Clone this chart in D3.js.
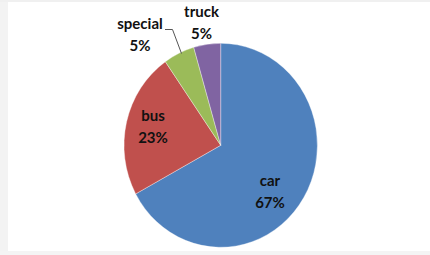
<!DOCTYPE html>
<html><head><meta charset="utf-8">
<script src="https://cdn.jsdelivr.net/npm/d3@7"></script>
<style>html,body{margin:0;padding:0;background:#fff;overflow:hidden}</style>
</head><body><svg id="c" width="430" height="255"></svg>
<script>
const categories = ["car", "bus", "special", "truck"];
const values = [67.1, 23.2, 5.2, 4.5];
const colors = ["#4F81BD", "#C0504D", "#9BBB59", "#8064A2"];

// label layout (centre x, first baseline y) per category
const labelPos = {car: [270, 185.5], bus: [153, 120.5], special: [140, 29], truck: [201.5, 16.5]};

const svg = d3.select("#c");
svg.append("rect").attr("width", 430).attr("height", 255).attr("fill", "#fff");
svg.append("rect").attr("x", 0).attr("y", 0).attr("width", 8).attr("height", 255).attr("fill", "#f3f3f3");
svg.append("rect").attr("x", 0).attr("y", 0).attr("width", 430).attr("height", 2).attr("fill", "#f0f0f0");
svg.append("rect").attr("x", 0).attr("y", 251).attr("width", 430).attr("height", 4).attr("fill", "#f4f4f4");

const cx = 220.7, cy = 145.3, R = 102, sx = 0.948;
const total = d3.sum(values);
const data = categories.map((c, i) => ({cat: c, value: values[i], color: colors[i]}));
const pie = d3.pie().sort(null).value(d => d.value);
const arc = d3.arc().innerRadius(0).outerRadius(R);

const g = svg.append("g").attr("transform", `translate(${cx},${cy}) scale(${sx},1)`);
g.selectAll("path").data(pie(data)).join("path")
  .attr("d", arc)
  .attr("fill", d => d.data.color)
  .attr("stroke", "#ffffff")
  .attr("stroke-width", 0.6)
  .attr("stroke-opacity", 0.6);

// leader line for "special"
svg.append("polyline")
  .attr("points", "165,29.5 172.5,29.5 181.5,53.5")
  .attr("fill", "none").attr("stroke", "#555").attr("stroke-width", 1);

const lab = svg.append("g")
  .attr("font-family", "Lato, 'Open Sans', sans-serif")
  .attr("font-weight", "bold").attr("font-size", 15).attr("fill", "#111")
  .attr("text-anchor", "middle");
data.forEach(d => {
  const [x, y] = labelPos[d.cat];
  const t = lab.append("text").attr("x", x).attr("y", y);
  t.append("tspan").attr("x", x).text(d.cat);
  t.append("tspan").attr("x", x).attr("dy", 22).text(Math.round(d.value / total * 100) + "%");
});
</script></body></html>
